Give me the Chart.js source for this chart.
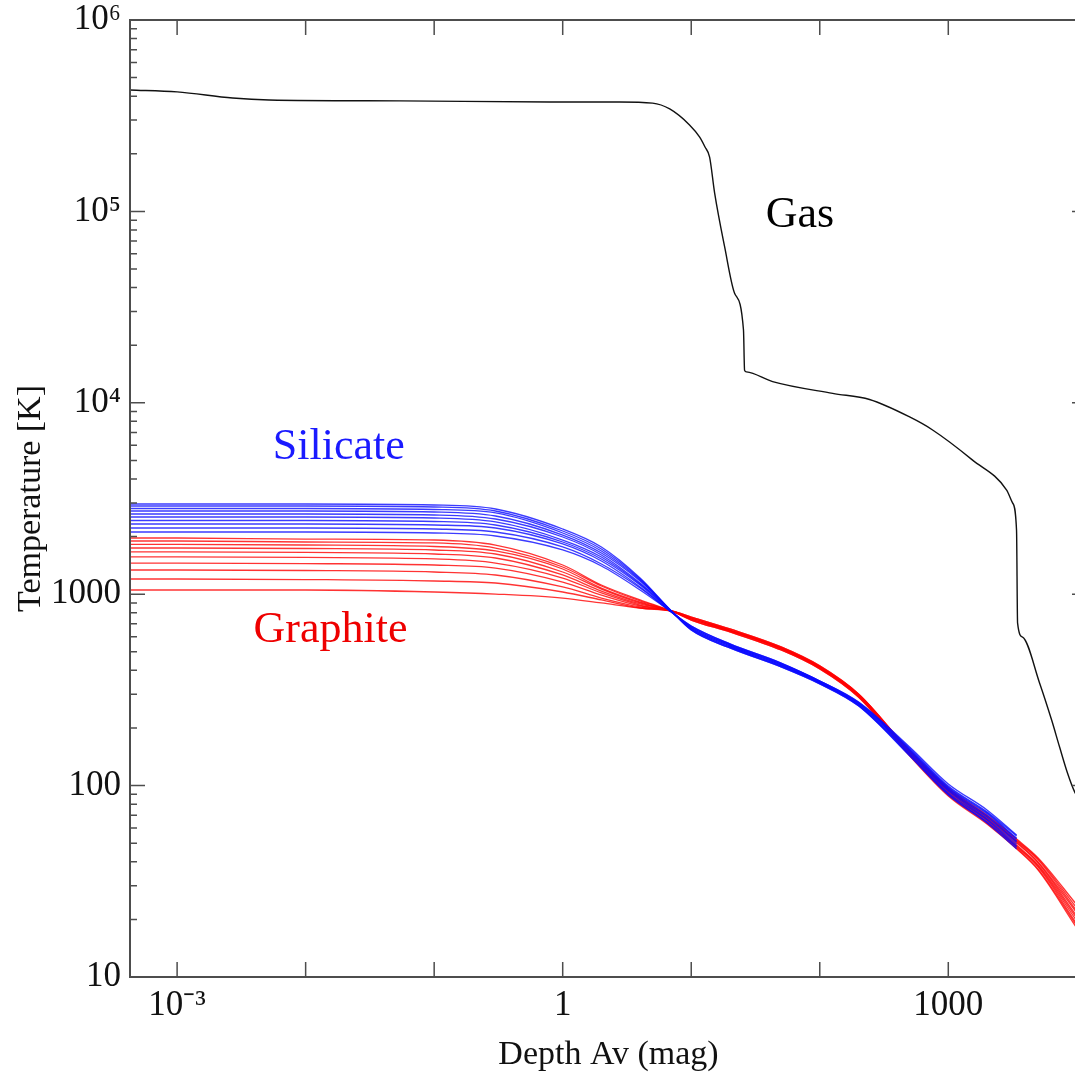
<!DOCTYPE html>
<html>
<head>
<meta charset="utf-8">
<script src="https://cdn.jsdelivr.net/npm/chart.js@4.4.1/dist/chart.umd.min.js"></script>
<style>
  html, body { margin: 0; padding: 0; background: #fff; overflow: hidden; }
</style>
</head>
<body>
<canvas id="chart" width="1100" height="1077"></canvas>
<script>
// depth grid (Av, mag) shared by the dust curves
const depthSil = [4.3e-4, 1e-3, 1e-2, 0.1, 0.3, 1, 2, 4, 7, 10, 20, 50, 100, 200, 500, 1000, 2000, 3400];
const depthGra = [4.3e-4, 1e-3, 1e-2, 0.1, 0.3, 1, 2, 4, 7, 10, 20, 50, 100, 200, 500, 1000, 2000, 3400, 5000, 10000];

// silicate grains, one row per grain size (K)
const silicateT = [
  [2960, 2960, 2960, 2924, 2787, 2191, 1765, 1215, 817, 650, 524, 417, 340, 261, 143, 89.3, 63.8, 46.7],
  [2889, 2889, 2889, 2855, 2721, 2139, 1722, 1201, 817, 650, 524, 417, 340, 261, 144.5, 90.4, 64.5, 47.8],
  [2804, 2804, 2804, 2770, 2657, 2088, 1682, 1186, 817, 658, 530, 422, 344, 264, 146, 91.5, 66.1, 48.3],
  [2721, 2721, 2721, 2689, 2562, 2038, 1642, 1172, 817, 658, 530, 422, 344, 264, 148, 93.7, 67.0, 49.6],
  [2624, 2624, 2624, 2593, 2471, 1990, 1603, 1144, 817, 666, 537, 427, 344, 267, 150, 94.8, 68.6, 50.8],
  [2531, 2531, 2531, 2501, 2384, 1919, 1565, 1131, 817, 666, 537, 427, 348, 267, 152, 96.0, 69.5, 51.4],
  [2427, 2427, 2427, 2398, 2299, 1874, 1528, 1117, 807, 674, 543, 432, 348, 270, 154, 97.2, 71.2, 52.6],
  [2327, 2327, 2327, 2299, 2218, 1830, 1491, 1091, 807, 674, 543, 432, 352, 270, 155, 98.3, 72.1, 53.2],
  [2218, 2218, 2218, 2191, 2113, 1765, 1438, 1077, 807, 682, 550, 437, 352, 273, 157, 99.5, 72.9, 54.5],
  [2113, 2113, 2113, 2088, 2014, 1702, 1404, 1052, 807, 682, 550, 437, 352, 273, 159, 102, 74.6, 55.2]
];

// graphite grains (K)
const graphiteT = [
  [1966, 1966, 1942, 1919, 1807, 1421, 1117, 933, 817, 733, 635, 511, 407, 290, 143, 88.2, 63.0, 46.7, 36.2, 18.0],
  [1897, 1897, 1874, 1852, 1743, 1387, 1104, 922, 817, 733, 635, 511, 407, 290, 144.5, 89.3, 63.8, 47.2, 36.6, 18.5],
  [1819, 1819, 1807, 1775, 1682, 1354, 1077, 910, 817, 742, 643, 518, 412, 294, 146, 90.4, 64.5, 47.8, 37.5, 18.9],
  [1743, 1743, 1733, 1702, 1622, 1306, 1064, 900, 817, 742, 643, 518, 412, 294, 146, 91.5, 65.3, 48.3, 38.0, 19.6],
  [1662, 1662, 1652, 1622, 1546, 1260, 1039, 889, 817, 742, 643, 518, 412, 297, 148, 92.6, 66.1, 48.9, 38.5, 20.3],
  [1565, 1565, 1556, 1528, 1455, 1215, 1015, 878, 817, 751, 650, 524, 417, 297, 148, 93.7, 67.0, 50.2, 39.4, 20.8],
  [1455, 1455, 1446, 1421, 1370, 1158, 990, 868, 817, 751, 650, 524, 417, 297, 150, 94.8, 67.8, 50.8, 39.9, 21.6],
  [1338, 1338, 1330, 1306, 1260, 1091, 955, 858, 817, 751, 650, 524, 417, 301, 150, 94.8, 68.6, 51.4, 40.9, 22.1],
  [1201, 1201, 1193, 1172, 1144, 1027, 933, 847, 817, 760, 658, 530, 422, 301, 152, 96.0, 69.5, 52.0, 41.4, 22.9],
  [1052, 1052, 1052, 1027, 1002, 955, 900, 847, 817, 760, 658, 530, 422, 301, 152, 97.2, 70.2, 52.6, 41.9, 23.8]
];

// gas temperature
const gasDepth = [4.3e-4, 0.001, 0.0027, 0.0052, 0.054, 0.79, 2.77, 5.0, 6.8, 9.7, 11.6, 12.8, 13.9, 15.2, 18.2, 21.7, 25.5, 26.0, 26.9,
  43, 126, 244, 500, 755, 1545, 2844, 3162, 3396, 3459, 3784, 5129, 6368, 7345, 8472, 9617, 10000];
const gasTemp = [431000, 421000, 391000, 382000, 378000, 373000, 373000, 368000, 343000, 283000, 245000, 217000, 192000, 125000, 65200, 37500, 24000, 14800, 14500,
  12900, 11200, 10400, 8430, 7210, 5020, 3500, 3000, 2160, 708, 597, 344, 220, 159, 116, 92.7, 89];

// axis ticks
const xTickValues = [1e-3, 1e-2, 1e-1, 1, 10, 100, 1000, 1e4];
const xTickLabels = ['10\u207B\u00B3', '', '', '1', '', '', '1000', ''];
const yTickValues = [10, 100, 1000, 1e4, 1e5, 1e6];
const yTickLabels = ['10', '100', '1000', '10\u2074', '10\u2075', '10\u2076'];

// curve labels
const notes = [
  { text: 'Gas', x: 70, y: 95700, color: '#000' },
  { text: 'Silicate', x: 0.0181, y: 5870, color: '#1a1aff' },
  { text: 'Graphite', x: 0.0156, y: 650, color: '#ee0000' }
];

const serif = "'Liberation Serif', 'Times New Roman', serif";
const pts = (xs, ys) => xs.map((v, i) => ({ x: v, y: ys[i] }));

const datasets = [];
silicateT.forEach(row => datasets.push({
  data: pts(depthSil, row),
  borderColor: 'rgba(10, 10, 255, 0.8)',
  borderWidth: 1.3,
  cubicInterpolationMode: 'monotone'
}));
graphiteT.forEach(row => datasets.push({
  data: pts(depthGra, row),
  borderColor: 'rgba(255, 0, 0, 0.8)',
  borderWidth: 1.3,
  cubicInterpolationMode: 'monotone'
}));
datasets.push({
  data: pts(gasDepth, gasTemp),
  borderColor: '#111',
  borderWidth: 1.4,
  cubicInterpolationMode: 'monotone'
});

// frame, inward ticks and curve labels
const framePlugin = {
  id: 'frame',
  afterDraw(chart) {
    const { ctx, chartArea: a, scales: { x, y } } = chart;
    ctx.save();
    ctx.strokeStyle = '#4d4d4d';
    ctx.lineWidth = 2;
    ctx.strokeRect(a.left, a.top, a.right - a.left, a.bottom - a.top);

    ctx.lineWidth = 1.5;
    ctx.beginPath();
    x.ticks.forEach(t => {
      const px = x.getPixelForValue(t.value);
      ctx.moveTo(px, a.bottom); ctx.lineTo(px, a.bottom - 15);
      ctx.moveTo(px, a.top); ctx.lineTo(px, a.top + 15);
    });
    for (let d = 10; d < 1e6; d *= 10) {
      for (let m = 1; m <= 10; m++) {
        const py = y.getPixelForValue(d * m);
        const len = (m === 1 || m === 10) ? 15 : 7;
        ctx.moveTo(a.left, py); ctx.lineTo(a.left + len, py);
        ctx.moveTo(a.right, py); ctx.lineTo(a.right - len, py);
      }
    }
    ctx.stroke();

    ctx.font = '44px ' + serif;
    ctx.textAlign = 'center';
    ctx.textBaseline = 'middle';
    notes.forEach(n => {
      ctx.fillStyle = n.color;
      ctx.fillText(n.text, x.getPixelForValue(n.x), y.getPixelForValue(n.y));
    });
    ctx.restore();
  }
};

new Chart(document.getElementById('chart'), {
  type: 'line',
  data: { datasets },
  options: {
    responsive: false,
    animation: false,
    events: [],
    layout: { padding: { top: 20, right: 13, left: 0, bottom: 0 } },
    elements: { point: { radius: 0 } },
    plugins: { legend: { display: false }, tooltip: { enabled: false } },
    scales: {
      x: {
        type: 'logarithmic',
        min: 4.3e-4,
        max: 1.2e4,
        afterBuildTicks: s => { s.ticks = xTickValues.map(v => ({ value: v })); },
        afterFit: s => { s.height = 100; },
        grid: { display: false, drawTicks: false },
        border: { display: false },
        ticks: {
          autoSkip: false,
          maxRotation: 0,
          padding: 8,
          color: '#111',
          font: { family: serif, size: 35 },
          callback: (v, i) => xTickLabels[i]
        },
        title: {
          display: true,
          text: 'Depth Av (mag)',
          color: '#111',
          font: { family: serif, size: 34 },
          padding: { top: 0, bottom: 2 }
        }
      },
      y: {
        type: 'logarithmic',
        min: 10,
        max: 1e6,
        afterBuildTicks: s => { s.ticks = yTickValues.map(v => ({ value: v })); },
        afterFit: s => { s.width = 130; },
        grid: { display: false, drawTicks: false },
        border: { display: false },
        ticks: {
          autoSkip: false,
          padding: 9,
          color: '#111',
          font: { family: serif, size: 35, lineHeight: 0.6 },
          callback: (v, i) => yTickLabels[i]
        },
        title: {
          display: true,
          text: 'Temperature [K]',
          color: '#111',
          font: { family: serif, size: 34 },
          padding: { top: 11, bottom: 0 }
        }
      }
    }
  },
  plugins: [framePlugin]
});
</script>
</body>
</html>
